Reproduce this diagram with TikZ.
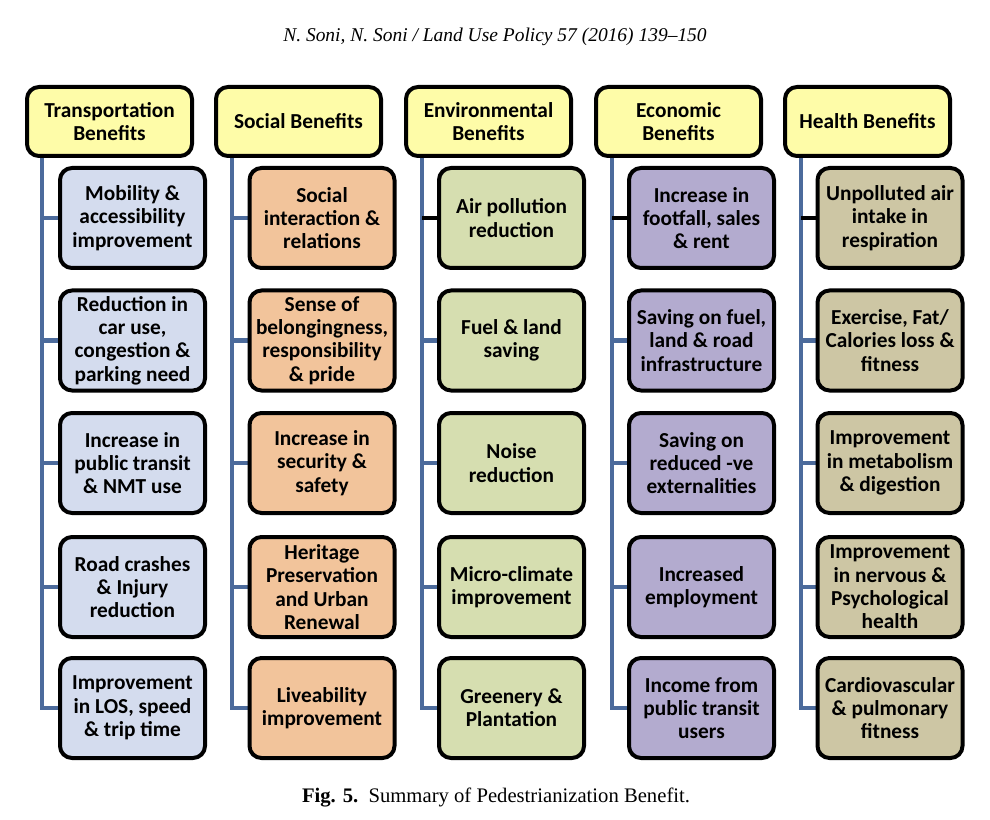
\documentclass[tikz,border=0pt]{standalone}
\usepackage{fontspec}
\setmainfont{Carlito}
\newfontfamily\capfont{Liberation Serif}
\usetikzlibrary{backgrounds}
\definecolor{hdrY}{HTML}{FEFCA8}
\definecolor{colT}{HTML}{D4DCEE}
\definecolor{colS}{HTML}{F2C49B}
\definecolor{colE}{HTML}{D6DEB0}
\definecolor{colC}{HTML}{B3ABCF}
\definecolor{colH}{HTML}{CDC6A4}
\definecolor{conn}{HTML}{4C6B9C}
\tikzset{
  box/.style={draw=black, line width=3pt, rounded corners=9pt, align=center,
    font=\fontsize{16}{17.5}\selectfont\bfseries, inner sep=1pt},
  hdr/.style={box, fill=hdrY, minimum width=123.75pt, minimum height=51.75pt},
  kid/.style={box, minimum width=108.75pt, minimum height=75pt},
  link/.style={draw=conn, line width=3.5pt},
  blink/.style={draw=black, line width=3.5pt},
}
\begin{document}
\begin{tikzpicture}[x=0.75pt,y=-0.75pt]
\useasboundingbox (0,0) rectangle (990,820);
\node[font=\capfont\itshape\fontsize{14.6}{18}\selectfont] (title) at (495,37) {N. Soni, N. Soni / Land Use Policy 57 (2016) 139–150};
\node[font=\capfont\fontsize{15.5}{18}\selectfont] (cap) at (496,798) {\textbf{Fig. 5.}\enspace Summary of Pedestrianization Benefit.};

% headers
\node[hdr] (h1) at (109.5,121.5) {Transportation\\Benefits};
\node[hdr] (h2) at (298.5,121.5) {Social Benefits};
\node[hdr] (h3) at (488.5,121.5) {Environmental\\Benefits};
\node[hdr] (h4) at (678.5,121.5) {Economic\\Benefits};
\node[hdr] (h5) at (867.5,121.5) {Health Benefits};

% transportation
\node[kid, fill=colT] (c11) at (132.5,218) {Mobility \&\\accessibility\\improvement};
\node[kid, fill=colT] (c12) at (132.5,340.5) {Reduction in\\car use,\\congestion \&\\parking need};
\node[kid, fill=colT] (c13) at (132.5,463) {Increase in\\public transit\\\& NMT use};
\node[kid, fill=colT] (c14) at (132.5,587) {Road crashes\\\& Injury\\reduction};
\node[kid, fill=colT] (c15) at (132.5,708) {Improvement\\in LOS, speed\\\& trip time};
% social
\node[kid, fill=colS] (c21) at (322,218) {Social\\interaction \&\\relations};
\node[kid, fill=colS] (c22) at (322,340.5) {Sense of\\belongingness,\\responsibility\\\& pride};
\node[kid, fill=colS] (c23) at (322,463) {Increase in\\security \&\\safety};
\node[kid, fill=colS] (c24) at (322,587) {Heritage\\Preservation\\and Urban\\Renewal};
\node[kid, fill=colS] (c25) at (322,708) {Liveability\\improvement};
% environmental
\node[kid, fill=colE] (c31) at (511.5,218) {Air pollution\\reduction};
\node[kid, fill=colE] (c32) at (511.5,340.5) {Fuel \& land\\saving};
\node[kid, fill=colE] (c33) at (511.5,463) {Noise\\reduction};
\node[kid, fill=colE] (c34) at (511.5,587) {Micro-climate\\improvement};
\node[kid, fill=colE] (c35) at (511.5,708) {Greenery \&\\Plantation};
% economic
\node[kid, fill=colC] (c41) at (701.5,218) {Increase in\\footfall, sales\\\& rent};
\node[kid, fill=colC] (c42) at (701.5,340.5) {Saving on fuel,\\land \& road\\infrastructure};
\node[kid, fill=colC] (c43) at (701.5,463) {Saving on\\reduced -ve\\externalities};
\node[kid, fill=colC] (c44) at (701.5,587) {Increased\\employment};
\node[kid, fill=colC] (c45) at (701.5,708) {Income from\\public transit\\users};
% health
\node[kid, fill=colH] (c51) at (890,218) {Unpolluted air\\intake in\\respiration};
\node[kid, fill=colH] (c52) at (890,340.5) {Exercise, Fat/\\Calories loss \&\\fitness};
\node[kid, fill=colH] (c53) at (890,463) {Improvement\\in metabolism\\\& digestion};
\node[kid, fill=colH] (c54) at (890,587) {Improvement\\in nervous \&\\Psychological\\health};
\node[kid, fill=colH] (c55) at (890,708) {Cardiovascular\\\& pulmonary\\fitness};

\coordinate (v1) at (42,150);
\coordinate (v2) at (232,150);
\coordinate (v3) at (422,150);
\coordinate (v4) at (612,150);
\coordinate (v5) at (801,150);

\begin{pgfonlayer}{background}
\foreach \i in {1,...,5}{
  \draw[link] (v\i) |- (c\i5.west);
  \foreach \j in {2,3,4}{
    \draw[link] (v\i |- c\i\j.west) -- (c\i\j.west);
  }
}
\draw[link] (v1 |- c11.west) -- (c11.west);
\draw[link] (v2 |- c21.west) -- (c21.west);
\draw[blink] (v3 |- c31.west) -- (c31.west);
\draw[blink] (v4 |- c41.west) -- (c41.west);
\draw[blink] (v5 |- c51.west) -- (c51.west);
\end{pgfonlayer}
\end{tikzpicture}
\end{document}
